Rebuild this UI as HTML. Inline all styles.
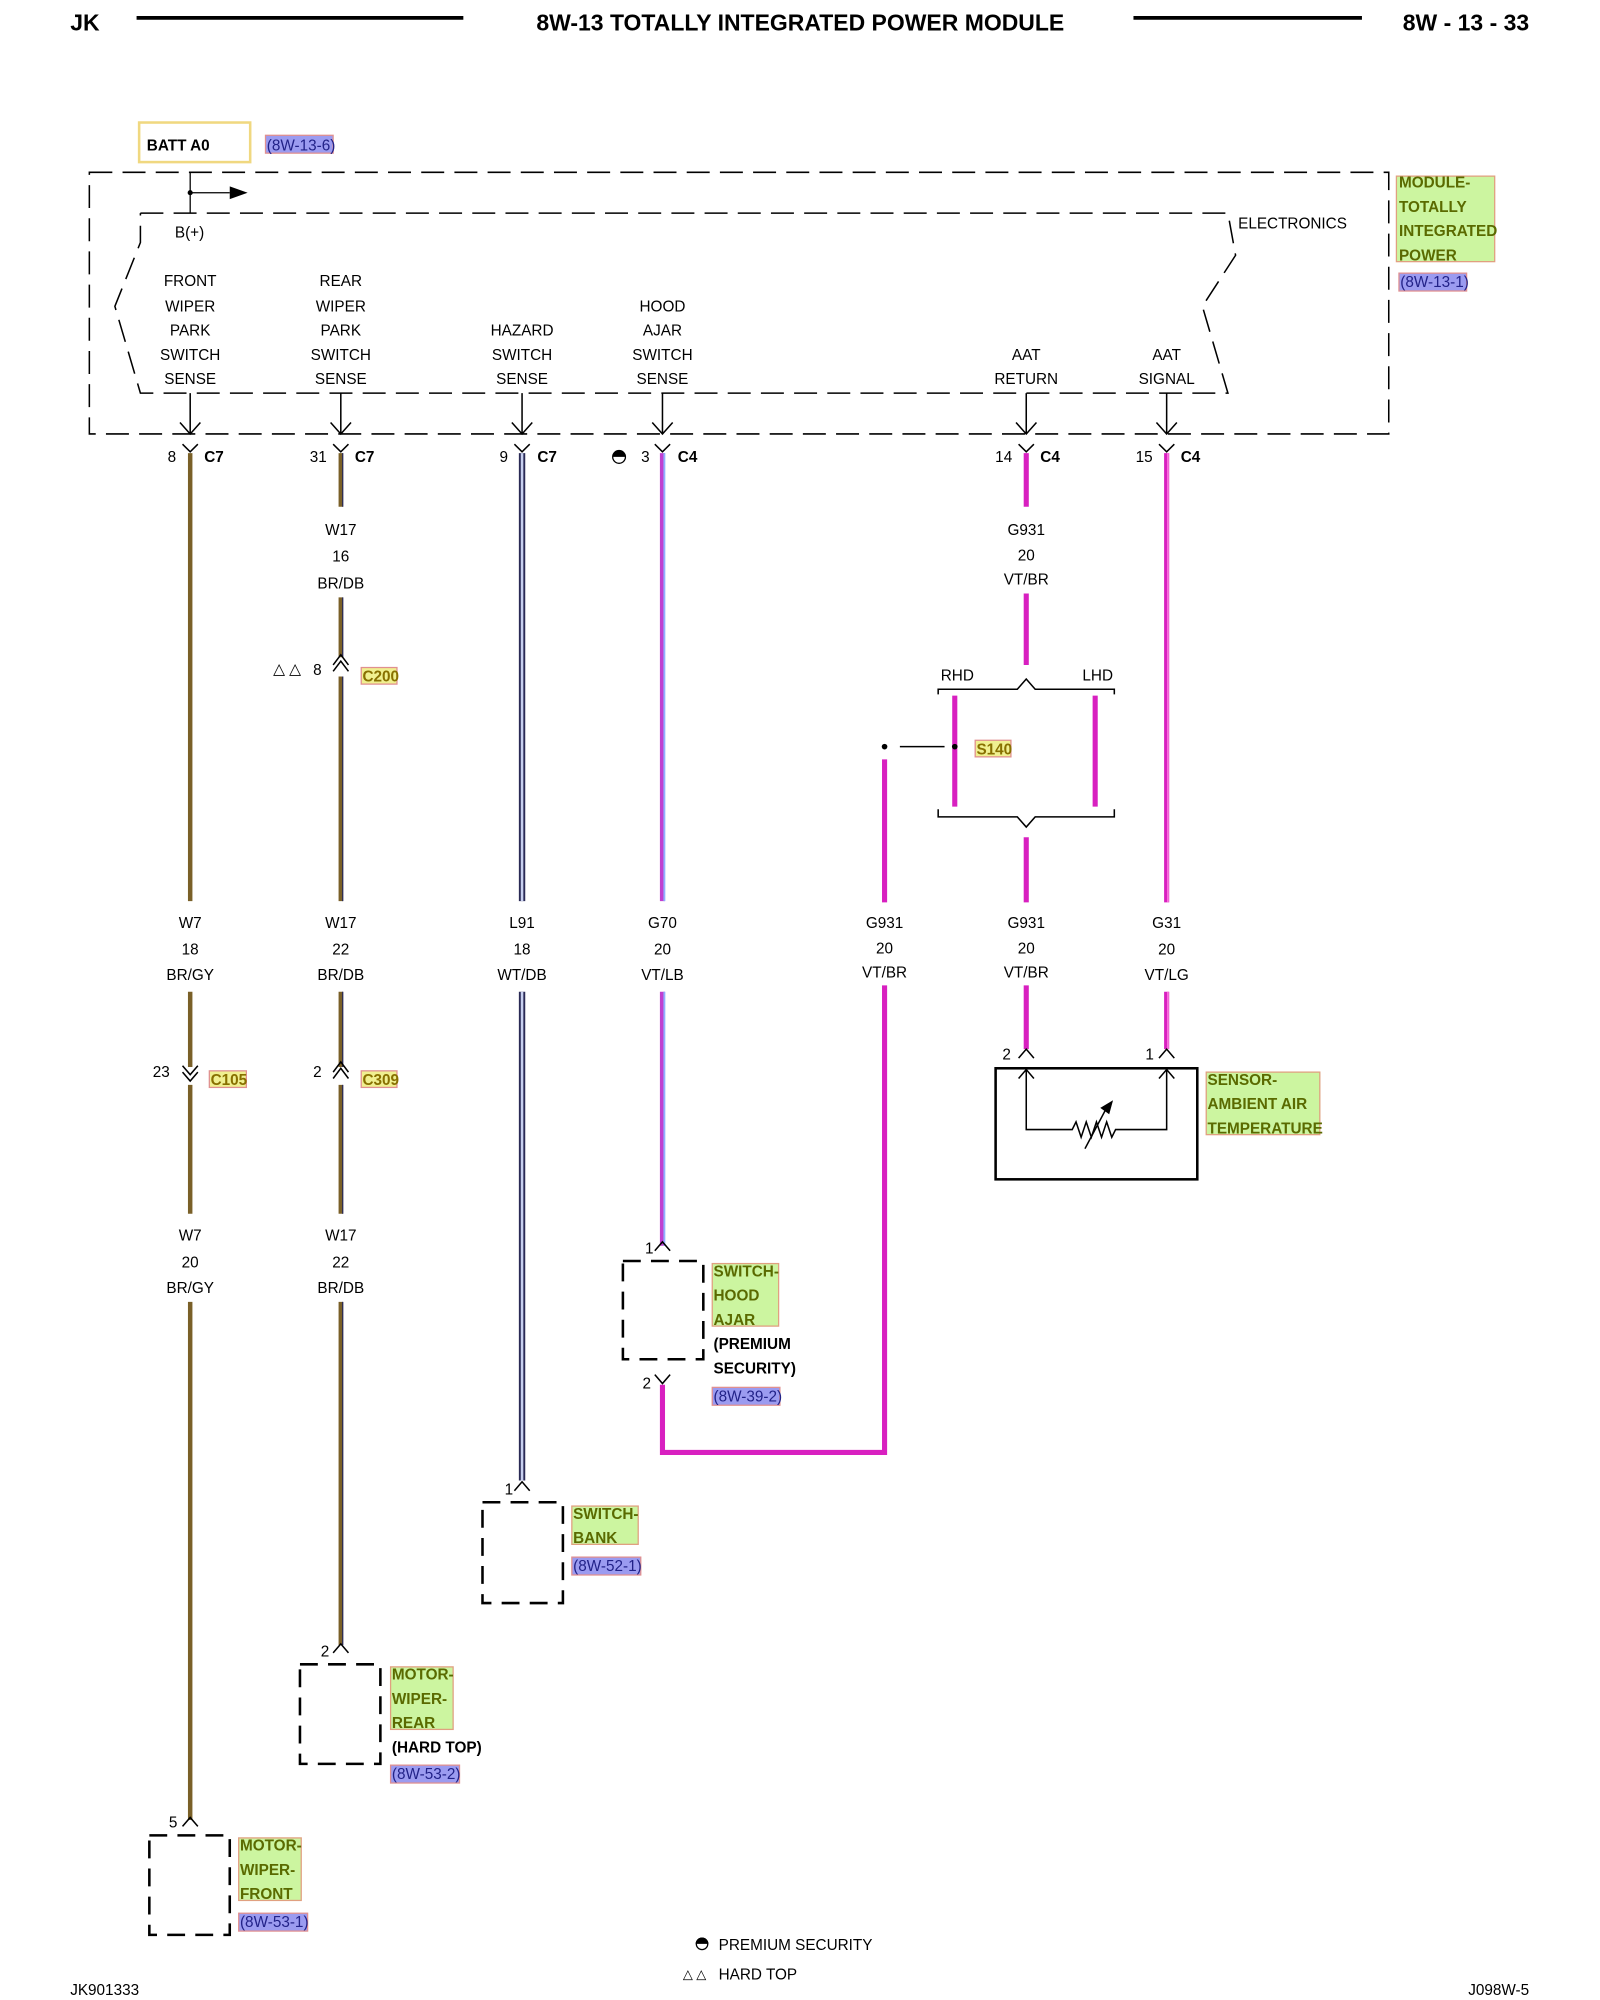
<!DOCTYPE html>
<html><head><meta charset="utf-8"><style>
html,body{margin:0;padding:0;background:#fff}
svg{display:block}
text{font-family:"Liberation Sans",Arial,sans-serif;font-size:12px;fill:#000}
.b{font-weight:bold}
.c{text-anchor:middle}
.h{font-size:18px;font-weight:bold}
.g{fill:#5a6a00;font-weight:bold;font-size:12px}
.r{fill:#222288;font-size:12px}
</style></head><body>
<svg width="1600" height="2000" viewBox="0 0 1253.5 1567" preserveAspectRatio="none" xmlns="http://www.w3.org/2000/svg">
<!-- header -->
<text x="55" y="24" class="h">JK</text>
<line x1="107" y1="14" x2="363" y2="14" stroke="#000" stroke-width="3"/>
<text x="627" y="24" class="h c">8W-13 TOTALLY INTEGRATED POWER MODULE</text>
<line x1="888" y1="14" x2="1067" y2="14" stroke="#000" stroke-width="3"/>
<text x="1198" y="24" class="h" text-anchor="end">8W - 13 - 33</text>

<!-- BATT -->
<rect x="109" y="96" width="87" height="31" fill="#fff" stroke="#f0d880" stroke-width="2"/>
<text x="115" y="118" class="b">BATT A0</text>
<rect x="208" y="106" width="53" height="14" fill="#9b9bf0" stroke="#e09090"/>
<text x="209" y="118" class="r">(8W-13-6)</text>

<!-- module box -->
<g fill="none" stroke="#000" stroke-width="1.2" stroke-dasharray="18,8">
<rect x="70" y="135" width="1018" height="205"/>
<polyline points="110,167 962,167 968,200 942,240 962,308 110,308 90,240 110,190 110,167"/>
</g>
<line x1="149" y1="135" x2="149" y2="167" stroke="#000"/>
<line x1="149" y1="151" x2="180" y2="151" stroke="#000"/>
<polygon points="180,146 194,151 180,156" fill="#000"/>
<circle cx="149" cy="151" r="2" fill="#000"/>
<text x="137" y="186">B(+)</text>
<text x="970" y="179">ELECTRONICS</text>
<rect x="1094" y="138" width="77" height="67" fill="#ccf5a0" stroke="#e0a080"/>
<text x="1096" y="147" class="g">MODULE-</text><text x="1096" y="166" class="g">TOTALLY</text><text x="1096" y="185" class="g">INTEGRATED</text><text x="1096" y="204" class="g">POWER</text>
<rect x="1096" y="214" width="53" height="14" fill="#9b9bf0" stroke="#e09090"/>
<text x="1097" y="225" class="r">(8W-13-1)</text>

<!-- pin labels -->
<g class="c">
<text x="149" y="224" class="c">FRONT</text><text x="149" y="244" class="c">WIPER</text><text x="149" y="263" class="c">PARK</text><text x="149" y="282" class="c">SWITCH</text><text x="149" y="301" class="c">SENSE</text>
<text x="267" y="224" class="c">REAR</text><text x="267" y="244" class="c">WIPER</text><text x="267" y="263" class="c">PARK</text><text x="267" y="282" class="c">SWITCH</text><text x="267" y="301" class="c">SENSE</text>
<text x="409" y="263" class="c">HAZARD</text><text x="409" y="282" class="c">SWITCH</text><text x="409" y="301" class="c">SENSE</text>
<text x="519" y="244" class="c">HOOD</text><text x="519" y="263" class="c">AJAR</text><text x="519" y="282" class="c">SWITCH</text><text x="519" y="301" class="c">SENSE</text>
<text x="804" y="282" class="c">AAT</text><text x="804" y="301" class="c">RETURN</text>
<text x="914" y="282" class="c">AAT</text><text x="914" y="301" class="c">SIGNAL</text>
</g>

<!-- pin arrows and connectors -->
<g stroke="#000" stroke-width="1.2" fill="none">
<path d="M149 308V340M141 331L149 340L157 331M143 348L149 354L155 348"/>
<path d="M267 308V340M259 331L267 340L275 331M261 348L267 354L273 348"/>
<path d="M409 308V340M401 331L409 340L417 331M403 348L409 354L415 348"/>
<path d="M519 308V340M511 331L519 340L527 331M513 348L519 354L525 348"/>
<path d="M804 308V340M796 331L804 340L812 331M798 348L804 354L810 348"/>
<path d="M914 308V340M906 331L914 340L922 331M908 348L914 354L920 348"/>
</g>
<text x="138" y="362" text-anchor="end">8</text><text x="160" y="362" class="b">C7</text>
<text x="256" y="362" text-anchor="end">31</text><text x="278" y="362" class="b">C7</text>
<text x="398" y="362" text-anchor="end">9</text><text x="421" y="362" class="b">C7</text>
<text x="509" y="362" text-anchor="end">3</text><text x="531" y="362" class="b">C4</text>
<path d="M480 358a5 5 0 0 1 10 0z" fill="#000"/><circle cx="485" cy="358" r="5" fill="none" stroke="#000"/>
<text x="793" y="362" text-anchor="end">14</text><text x="815" y="362" class="b">C4</text>
<text x="903" y="362" text-anchor="end">15</text><text x="925" y="362" class="b">C4</text>

<!-- wires -->
<g fill="none" stroke-linecap="butt">
<g stroke="#7a6028" stroke-width="3.5">
<path d="M149 355V706M149 777V836M149 850V951M149 1020V1426"/>
<path d="M267 355V397M267 468V515M267 530V706M267 777V836M267 850V951M267 1020V1289"/>
</g>
<g stroke="#2a2a55" stroke-width="1">
<path d="M267 355V397M267 468V515M267 530V706M267 777V836M267 850V951M267 1020V1289" transform="translate(1.5,0)"/>
</g>
<g stroke="#2a2a55" stroke-width="5"><path d="M409 355V706M409 777V1160"/></g>
<g stroke="#c8d0f0" stroke-width="2"><path d="M409 355V706M409 777V1160"/></g>
<g stroke="#c040d0" stroke-width="4"><path d="M519 355V706M519 777V976"/></g>
<g stroke="#90b0ff" stroke-width="1.5"><path d="M520.5 355V706M520.5 777V976"/></g>
<g stroke="#d820c0" stroke-width="4">
<path d="M519 1085V1138H693V772M693 707V595"/>
<path d="M804 355V397M804 465V521M804 656V707M804 772V822"/>
<path d="M748 545V632M858 545V632"/>
<path d="M914 355V707M914 777V822"/>
</g>
<g stroke="#ff80e0" stroke-width="1.2">
<path d="M914 355V707M914 777V822" transform="translate(1,0)"/>
</g>
</g>

<!-- splice braces -->
<g stroke="#000" stroke-width="1.2" fill="none">
<path d="M735 544V540H797L804 532L811 540H873V544"/>
<path d="M735 634V640H797L804 648L811 640H873V634"/>
<line x1="705" y1="585" x2="740" y2="585"/>
</g>
<circle cx="693" cy="585" r="2.2" fill="#000"/><circle cx="748" cy="585" r="2.2" fill="#000"/>
<text x="737" y="533">RHD</text><text x="848" y="533">LHD</text>
<rect x="764" y="580" width="28" height="13" fill="#f0f090" stroke="#e09090"/>
<text x="765" y="591" class="g" style="fill:#887000">S140</text>

<!-- wire labels -->
<g>
<text x="267" y="419" class="c">W17</text><text x="267" y="440" class="c">16</text><text x="267" y="461" class="c">BR/DB</text>
<text x="804" y="419" class="c">G931</text><text x="804" y="439" class="c">20</text><text x="804" y="458" class="c">VT/BR</text>
<text x="149" y="727" class="c">W7</text><text x="149" y="748" class="c">18</text><text x="149" y="768" class="c">BR/GY</text>
<text x="267" y="727" class="c">W17</text><text x="267" y="748" class="c">22</text><text x="267" y="768" class="c">BR/DB</text>
<text x="409" y="727" class="c">L91</text><text x="409" y="748" class="c">18</text><text x="409" y="768" class="c">WT/DB</text>
<text x="519" y="727" class="c">G70</text><text x="519" y="748" class="c">20</text><text x="519" y="768" class="c">VT/LB</text>
<text x="693" y="727" class="c">G931</text><text x="693" y="747" class="c">20</text><text x="693" y="766" class="c">VT/BR</text>
<text x="804" y="727" class="c">G931</text><text x="804" y="747" class="c">20</text><text x="804" y="766" class="c">VT/BR</text>
<text x="914" y="727" class="c">G31</text><text x="914" y="748" class="c">20</text><text x="914" y="768" class="c">VT/LG</text>
<text x="149" y="972" class="c">W7</text><text x="149" y="993" class="c">20</text><text x="149" y="1013" class="c">BR/GY</text>
<text x="267" y="972" class="c">W17</text><text x="267" y="993" class="c">22</text><text x="267" y="1013" class="c">BR/DB</text>
</g>

<!-- inline connectors -->
<g stroke="#000" stroke-width="1.2" fill="none">
<path d="M261 526L267 518L273 526M261 521L267 513L273 521"/>
<path d="M143 835L149 842L155 835M143 840L149 847L155 840"/>
<path d="M261 845L267 837L273 845M261 840L267 832L273 840"/>
</g>
<text x="214" y="528">△ △</text><text x="252" y="529" text-anchor="end">8</text>
<rect x="283" y="523" width="28" height="13" fill="#f0f090" stroke="#e09090"/><text x="284" y="534" class="g" style="fill:#887000">C200</text>
<text x="133" y="844" text-anchor="end">23</text>
<rect x="164" y="839" width="29" height="13" fill="#f0f090" stroke="#e09090"/><text x="165" y="850" class="g" style="fill:#887000">C105</text>
<text x="252" y="844" text-anchor="end">2</text>
<rect x="283" y="839" width="28" height="13" fill="#f0f090" stroke="#e09090"/><text x="284" y="850" class="g" style="fill:#887000">C309</text>

<!-- sensor -->
<rect x="780" y="837" width="158" height="87" fill="none" stroke="#000" stroke-width="2"/>
<g stroke="#000" stroke-width="1.2" fill="none">
<path d="M798 829L804 822L810 829M908 829L914 822L920 829"/>
<path d="M804 837V885H840l3-6 4 12 4-12 4 12 4-12 4 12 4-12 4 12 3-6H914V837"/>
<path d="M798 845L804 838L810 845M908 845L914 838L920 845"/>
<path d="M850 900L868 866"/>
</g>
<polygon points="872,862 862,868 869,873" fill="#000"/>
<text x="792" y="830" text-anchor="end">2</text><text x="904" y="830" text-anchor="end">1</text>
<rect x="945" y="840" width="89" height="49" fill="#ccf5a0" stroke="#e0a080"/>
<text x="946" y="850" class="g">SENSOR-</text><text x="946" y="869" class="g">AMBIENT AIR</text><text x="946" y="888" class="g">TEMPERATURE</text>

<!-- components -->
<g stroke="#000" stroke-width="2" fill="none" stroke-dasharray="14,8">
<rect x="488" y="988" width="63" height="77"/>
<rect x="378" y="1177" width="63" height="79"/>
<rect x="235" y="1304" width="63" height="78"/>
<rect x="117" y="1438" width="63" height="78"/>
</g>
<g stroke="#000" stroke-width="1.2" fill="none">
<path d="M513 980L519 973L525 980"/>
<path d="M513 1077L519 1084L525 1077"/>
<path d="M403 1168L409 1161L415 1168"/>
<path d="M261 1295L267 1288L273 1295"/>
<path d="M143 1431L149 1424L155 1431"/>
</g>
<text x="512" y="982" text-anchor="end">1</text>
<text x="510" y="1088" text-anchor="end">2</text>
<text x="402" y="1171" text-anchor="end">1</text>
<text x="258" y="1298" text-anchor="end">2</text>
<text x="139" y="1432" text-anchor="end">5</text>

<rect x="558" y="990" width="52" height="49" fill="#ccf5a0" stroke="#e0a080"/>
<text x="559" y="1000" class="g">SWITCH-</text><text x="559" y="1019" class="g">HOOD</text><text x="559" y="1038" class="g">AJAR</text>
<text x="559" y="1057" class="b">(PREMIUM</text><text x="559" y="1076" class="b">SECURITY)</text>
<rect x="558" y="1087" width="53" height="14" fill="#9b9bf0" stroke="#e09090"/><text x="559" y="1098" class="r">(8W-39-2)</text>

<rect x="448" y="1180" width="52" height="30" fill="#ccf5a0" stroke="#e0a080"/>
<text x="449" y="1190" class="g">SWITCH-</text><text x="449" y="1209" class="g">BANK</text>
<rect x="448" y="1220" width="54" height="14" fill="#9b9bf0" stroke="#e09090"/><text x="449" y="1231" class="r">(8W-52-1)</text>

<rect x="306" y="1306" width="49" height="49" fill="#ccf5a0" stroke="#e0a080"/>
<text x="307" y="1316" class="g">MOTOR-</text><text x="307" y="1335" class="g">WIPER-</text><text x="307" y="1354" class="g">REAR</text>
<text x="307" y="1373" class="b">(HARD TOP)</text>
<rect x="306" y="1383" width="54" height="14" fill="#9b9bf0" stroke="#e09090"/><text x="307" y="1394" class="r">(8W-53-2)</text>

<rect x="187" y="1440" width="49" height="49" fill="#ccf5a0" stroke="#e0a080"/>
<text x="188" y="1450" class="g">MOTOR-</text><text x="188" y="1469" class="g">WIPER-</text><text x="188" y="1488" class="g">FRONT</text>
<rect x="187" y="1499" width="54" height="14" fill="#9b9bf0" stroke="#e09090"/><text x="188" y="1510" class="r">(8W-53-1)</text>

<!-- legend -->
<path d="M545 1523a5 5 0 0 1 10 0z" fill="#000"/><circle cx="550" cy="1523" r="4.5" fill="none" stroke="#000"/>
<text x="563" y="1528">PREMIUM SECURITY</text>
<text x="535" y="1550" style="font-size:10px">△ △</text><text x="563" y="1551">HARD TOP</text>
<text x="55" y="1563">JK901333</text>
<text x="1198" y="1563" text-anchor="end">J098W-5</text>
</svg>
</body></html>
